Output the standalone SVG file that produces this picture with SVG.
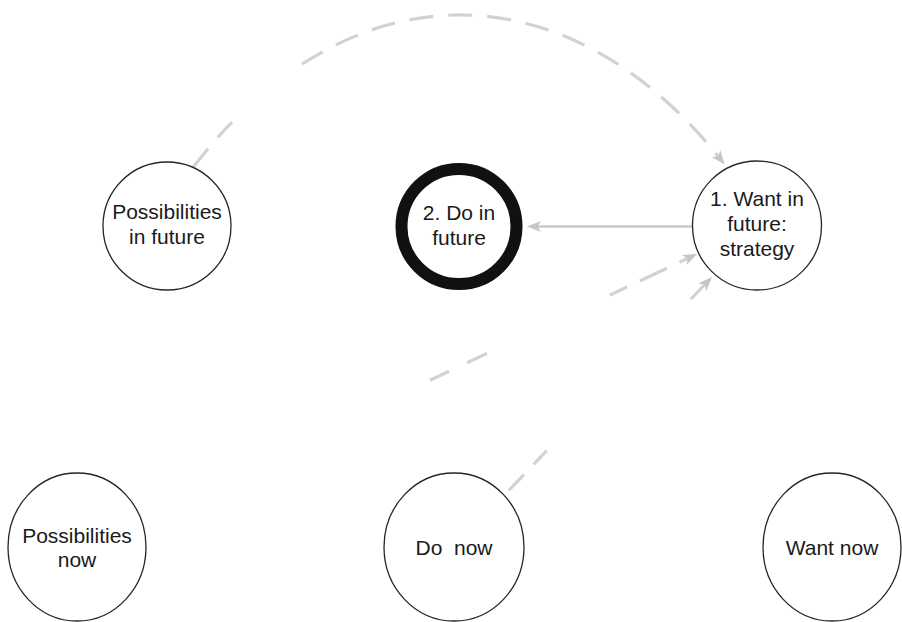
<svg xmlns="http://www.w3.org/2000/svg" width="902" height="622" viewBox="0 0 902 622">
  <style>
    .node { fill: #ffffff; stroke: #262626; stroke-width: 1.3; }
    .focus { fill: #ffffff; stroke: #111111; stroke-width: 12; }
    .label { font-family: "Liberation Sans", Arial, sans-serif; font-size: 21px; fill: #1a1a1a; text-anchor: middle; }
    .link { fill: none; stroke: #d2d2d2; stroke-width: 3.2; }
    .solid { fill: none; stroke: #c8c8c8; stroke-width: 2.5; }
  </style>
  <defs>
    <marker id="arrow" viewBox="0 0 14 11" refX="5" refY="5.5" markerWidth="14" markerHeight="11" markerUnits="userSpaceOnUse" orient="auto">
      <path d="M0,0 L14,5.5 L0,11 L3.5,5.5 z" fill="#c6c6c6"/>
    </marker>
  </defs>

  <rect width="902" height="622" fill="#ffffff"/>

  <!-- connectors -->
  <g id="connectors">
    <!-- Possibilities in future -> 1. Want in future (large arc over the top) -->
    <path class="link" d="M193,167.5 A425,687 0 0 1 232,122.2" stroke-dasharray="24 15 24 40"/>
    <path class="link" d="M302,64.2 A425,687 0 0 1 719.1,157.4" stroke-dasharray="24 15" marker-end="url(#arrow)"/>
    <!-- 1. Want in future -> 2. Do in future -->
    <path class="solid" d="M692.5,226.5 L536,226.5" marker-end="url(#arrow)"/>
    <!-- Possibilities now -> 1. Want in future -->
    <path class="link" d="M139,518 L688.9,257.8" stroke-dasharray="0 322 21 20 22 136 19 14 30 14 60" marker-end="url(#arrow)"/>
    <!-- Do now -> 1. Want in future -->
    <path class="link" d="M503.3,496.3 L705.8,283.5" stroke-dasharray="0 8 22 14 19 209 60" marker-end="url(#arrow)"/>
  </g>

  <g id="possibilities-future">
    <circle class="node" cx="167" cy="226" r="64"/>
    <text class="label" x="167" y="219">Possibilities</text>
    <text class="label" x="167" y="244">in future</text>
  </g>

  <g id="do-future">
    <circle class="focus" cx="459" cy="226.5" r="57.5"/>
    <text class="label" x="459" y="220">2. Do in</text>
    <text class="label" x="459" y="245">future</text>
  </g>

  <g id="want-future">
    <circle class="node" cx="757" cy="225.5" r="64.5"/>
    <text class="label" x="757" y="205.5">1. Want in</text>
    <text class="label" x="757" y="230.5">future:</text>
    <text class="label" x="757" y="255.5">strategy</text>
  </g>

  <g id="possibilities-now">
    <ellipse class="node" cx="77" cy="547" rx="69" ry="74"/>
    <text class="label" x="77" y="543">Possibilities</text>
    <text class="label" x="77" y="567">now</text>
  </g>

  <g id="do-now">
    <ellipse class="node" cx="454" cy="547" rx="70" ry="74"/>
    <text class="label" x="454" y="555" xml:space="preserve">Do  now</text>
  </g>

  <g id="want-now">
    <ellipse class="node" cx="832" cy="547" rx="69" ry="74"/>
    <text class="label" x="832" y="555">Want now</text>
  </g>
</svg>
